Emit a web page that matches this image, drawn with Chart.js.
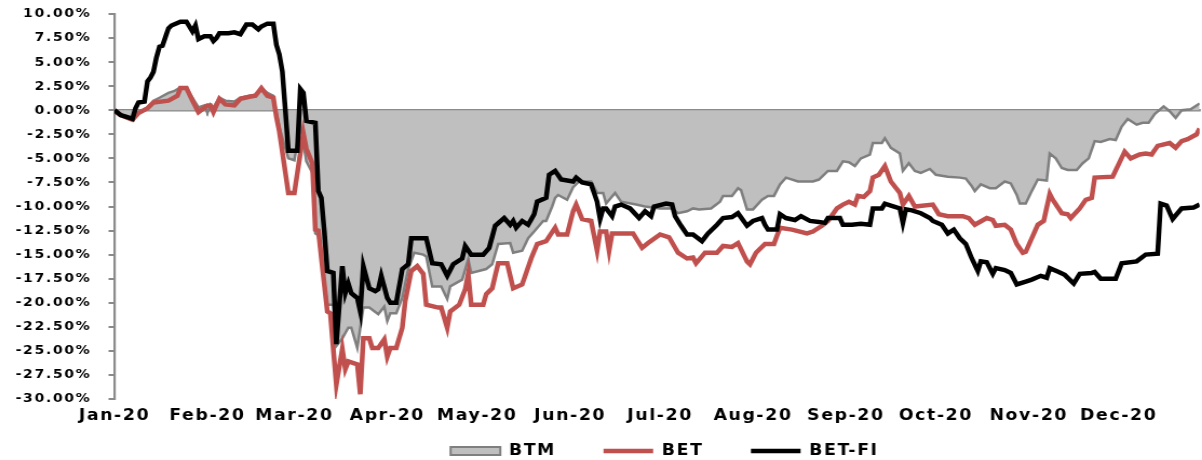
<!DOCTYPE html>
<html>
<head>
<meta charset="utf-8">
<script src="https://cdn.jsdelivr.net/npm/chart.js@4"></script>
<style>
html, body { margin: 0; padding: 0; background: #fff; overflow: hidden; }
#wrap { position: absolute; left: 0; top: 0; width: 1113px; height: 460px; transform: scaleX(1.08); transform-origin: 0 0; }
</style>
</head>
<body>
<div id="wrap"><canvas id="c"></canvas></div>
<script>
// ---- Data (day of year 2020, % change since start of year) ----
const monthLabels = ['Jan-20','Feb-20','Mar-20','Apr-20','May-20','Jun-20','Jul-20','Aug-20','Sep-20','Oct-20','Nov-20','Dec-20'];
const monthStartDays = [0,31,60,91,121,152,182,213,244,274,305,335];

const btmDays = [
  0,2,6,8,11,13,15,18,20,22,
  24,26,28,30,31,32,33,35,37,40,
  42,45,47,49,51,53,54,55,58,60,
  62,64,66,67,68,71,73,74,76,78,
  79,81,83,85,88,90,91,92,94,96,
  98,100,103,104,106,109,111,112,116,118,
  119,124,126,128,132,133,136,138,140,143,
  144,146,147,148,151,153,155,159,161,163,
  164,167,169,174,177,182,186,188,191,193,
  195,199,202,203,206,208,209,211,213,216,
  218,220,222,224,228,233,235,238,241,243,
  245,247,249,252,253,256,257,259,262,263,
  265,267,269,272,274,278,282,284,286,287,
  289,292,294,297,299,301,302,304,306,308,
  311,312,314,316,318,321,323,325,327,329,
  332,334,336,338,341,343,345,347,350,352,
  354,356,359,362
];
const btmValues = [
  0,-0.4,-0.8,-0.2,0.3,1.0,1.3,1.8,2.0,2.4,
  2.4,1.3,0.3,0.5,-0.3,0.6,0.3,1.3,1.0,0.9,
  1.3,1.5,1.6,2.3,1.8,1.5,-0.3,-1.8,-5.0,-5.2,
  -1.5,-5.3,-6.5,-12.8,-13.0,-20.2,-20.2,-24.5,-23.7,-22.6,
  -22.6,-24.7,-20.5,-20.5,-21.2,-20.4,-21.9,-21.1,-21.1,-19.5,
  -16.5,-14.8,-15.0,-15.2,-18.3,-18.3,-19.6,-18.3,-17.6,-15.5,
  -16.9,-16.5,-16.0,-13.9,-13.8,-14.8,-14.6,-13.3,-12.6,-11.5,
  -11.5,-10.0,-9.1,-8.8,-9.3,-8.0,-7.4,-7.4,-8.6,-8.6,
  -9.7,-8.6,-9.5,-9.8,-10.0,-10.2,-10.2,-10.7,-10.5,-10.2,
  -10.3,-10.2,-9.5,-8.9,-8.9,-8.1,-8.3,-10.3,-10.3,-9.3,
  -8.9,-8.9,-7.7,-7.0,-7.4,-7.4,-7.2,-6.3,-6.3,-5.3,
  -5.4,-5.8,-5.0,-4.6,-3.4,-3.4,-2.9,-3.9,-4.5,-6.3,
  -5.5,-6.3,-6.5,-6.1,-6.7,-6.9,-7.0,-7.1,-7.9,-8.4,
  -7.7,-8.1,-8.1,-7.4,-7.6,-8.8,-9.7,-9.7,-8.4,-7.2,
  -7.3,-4.5,-5.0,-6.0,-6.2,-6.2,-5.5,-5.0,-3.2,-3.3,
  -3.0,-3.1,-1.7,-0.9,-1.5,-1.3,-1.3,-0.4,0.4,-0.1,
  -0.8,0.0,0.1,0.7
];

const betDays = [
  0,2,6,8,11,13,18,21,22,24,
  26,28,31,32,33,35,37,40,42,45,
  47,49,51,53,54,55,58,60,63,64,
  66,67,68,71,72,74,76,77,78,81,
  82,83,85,86,88,90,91,92,94,96,
  97,99,101,103,104,108,109,111,112,115,
  117,118,119,123,124,126,128,131,133,136,
  139,141,144,147,148,151,153,154,156,159,
  161,162,164,165,166,173,176,178,182,185,
  188,191,193,194,197,201,203,206,208,211,
  212,214,217,220,222,226,231,233,236,238,
  241,243,245,247,248,250,252,253,255,257,
  259,262,263,265,267,273,275,278,283,285,
  287,291,293,294,297,299,301,303,304,306,
  308,310,312,313,316,318,319,322,324,326,
  327,333,335,337,339,342,344,346,348,352,
  354,356,358,361,362
];
const betValues = [
  0,-0.5,-1.0,-0.3,0.2,0.8,1.0,1.5,2.3,2.3,
  1.0,-0.2,0.5,0.5,-0.2,1.2,0.6,0.5,1.2,1.4,
  1.5,2.3,1.5,1.3,-0.7,-2.2,-8.6,-8.6,-2.4,-4.0,
  -5.5,-12.4,-12.5,-20.9,-21.1,-28.5,-24.8,-26.9,-26.1,-26.4,
  -29.5,-23.7,-23.7,-24.7,-24.7,-23.8,-25.6,-24.7,-24.7,-22.6,
  -19.8,-16.7,-16.2,-17.0,-20.2,-20.5,-20.5,-22.6,-20.9,-20.2,
  -18.6,-17.0,-20.2,-20.2,-19.1,-18.5,-15.9,-15.9,-18.5,-18.1,
  -15.4,-13.9,-13.6,-12.2,-12.9,-12.9,-10.5,-9.8,-11.3,-11.5,
  -14.6,-12.6,-12.6,-14.6,-12.8,-12.8,-14.3,-13.8,-12.9,-13.2,
  -14.8,-15.4,-15.3,-15.9,-14.8,-14.8,-14.1,-14.2,-13.8,-15.7,
  -16.0,-14.8,-13.9,-13.9,-12.2,-12.4,-12.8,-12.6,-12.0,-11.5,
  -10.2,-9.8,-9.5,-9.8,-8.9,-9.0,-8.4,-7.0,-6.7,-5.8,
  -7.4,-8.6,-9.8,-8.9,-10.0,-9.8,-10.8,-11.0,-11.0,-11.2,
  -11.9,-11.2,-11.4,-12.0,-11.9,-12.4,-13.9,-14.8,-14.7,-13.3,
  -11.9,-11.5,-8.7,-9.3,-10.7,-10.8,-11.2,-10.2,-9.3,-9.1,
  -7.0,-6.9,-5.6,-4.3,-5.0,-4.6,-4.5,-4.6,-3.7,-3.4,
  -3.9,-3.2,-3.0,-2.5,-1.9
];

const betFiDays = [
  0,2,4,6,7,8,10,11,12,13,
  14,15,16,18,19,22,24,26,27,28,
  30,32,33,34,35,38,40,42,44,46,
  48,49,51,53,54,55,56,57,58,61,
  62,63,64,67,68,69,70,71,73,74,
  76,77,78,79,81,82,83,85,87,88,
  89,91,92,94,96,98,99,103,104,106,
  109,111,113,116,117,119,123,125,127,130,
  132,133,134,136,138,140,141,144,145,147,
  149,153,154,156,159,161,162,163,164,166,
  167,169,172,175,177,179,180,184,186,187,
  189,191,193,196,198,201,203,206,208,211,
  213,216,217,218,221,222,224,227,229,232,
  235,237,238,242,243,246,249,252,253,256,
  257,259,262,263,264,266,269,272,273,276,
  278,280,282,284,286,288,289,291,293,294,
  297,299,301,304,306,309,311,312,315,317,
  320,322,326,327,329,334,336,341,344,348,
  349,351,353,356,360,362
];
const betFiValues = [
  0,-0.5,-0.7,-0.9,0.2,0.8,0.9,3.0,3.4,4.0,
  5.5,6.6,6.7,8.5,8.8,9.2,9.2,8.2,8.8,7.4,
  7.7,7.7,7.2,7.5,8.0,8.0,8.1,7.9,8.9,8.9,
  8.4,8.7,9.0,9.0,6.8,5.8,4.0,0.0,-4.2,-4.2,
  2.2,1.8,-1.1,-1.3,-8.4,-9.1,-12.6,-16.7,-16.9,-24.3,
  -16.2,-19.0,-18.0,-19.0,-19.5,-20.9,-16.2,-18.5,-18.8,-18.6,
  -17.2,-19.5,-20.0,-20.0,-16.5,-16.0,-13.3,-13.3,-13.3,-15.9,
  -16.0,-17.2,-16.0,-15.4,-14.1,-15.0,-15.0,-14.3,-12.0,-11.2,
  -11.9,-11.5,-12.2,-11.5,-11.9,-10.8,-9.5,-9.1,-6.7,-6.3,
  -7.2,-7.4,-7.0,-7.5,-7.7,-9.5,-11.3,-10.2,-10.2,-11.0,
  -10.0,-9.8,-10.2,-11.2,-10.5,-11.0,-10.0,-9.7,-9.8,-11.0,
  -12.0,-12.9,-12.9,-13.6,-12.8,-11.9,-11.2,-11.1,-10.7,-12.0,
  -11.5,-11.2,-11.9,-12.4,-12.4,-10.8,-11.2,-11.4,-11.0,-11.5,
  -11.6,-11.7,-11.2,-11.2,-11.9,-11.9,-11.8,-11.9,-10.2,-10.2,
  -9.7,-9.9,-10.2,-11.7,-10.3,-10.4,-10.7,-11.2,-11.5,-11.9,
  -12.8,-12.4,-13.3,-13.9,-15.4,-16.7,-15.7,-15.8,-17.0,-16.4,
  -16.6,-16.9,-18.1,-17.8,-17.6,-17.2,-17.4,-16.4,-16.8,-17.1,
  -18.0,-17.0,-16.9,-16.8,-17.5,-17.5,-15.9,-15.7,-15.0,-14.9,
  -9.7,-9.9,-11.3,-10.2,-10.1,-9.8
];

const yMin = -30, yMax = 10, yStep = 2.5;
const xMin = 0, xMax = 362;

// ---- Build chart ----
function toPoints(days, values) {
  const n = Math.min(days.length, values.length);
  const out = [];
  for (let i = 0; i < n; i++) out.push({ x: days[i], y: values[i] });
  return out;
}
function monthTicks(scale) {
  scale.ticks = monthStartDays.map(v => ({ value: v }));
}

Chart.defaults.font.family = "'DejaVu Sans', Verdana, sans-serif";
Chart.defaults.font.weight = 'bold';
Chart.defaults.color = '#000';

const AXIS_GREY = '#8a8a8a';
const LETTER_SPACING = '1.5px';
const LEGEND_SHIFT = 7;

const textSpacing = {
  id: 'textSpacing',
  beforeUpdate(chart) { chart.ctx.letterSpacing = LETTER_SPACING; },
  beforeDraw(chart) { chart.ctx.letterSpacing = LETTER_SPACING; },
  afterLayout(chart) {
    const lg = chart.legend;
    if (lg) { lg.left += LEGEND_SHIFT; lg.right += LEGEND_SHIFT; }
  }
};

new Chart(document.getElementById('c'), {
  type: 'line',
  plugins: [textSpacing],
  data: {
    datasets: [
      {
        label: 'BTM',
        data: toPoints(btmDays, btmValues),
        borderColor: '#7f7f7f',
        backgroundColor: '#bfbfbf',
        borderWidth: 2.5,
        fill: 'origin',
        pointRadius: 0,
        tension: 0,
        order: 3,
        legendStyle: 'rect',
        legendLine: 2
      },
      {
        label: 'BET',
        data: toPoints(betDays, betValues),
        borderColor: '#c0504d',
        backgroundColor: '#c0504d',
        borderWidth: 4.5,
        fill: false,
        pointRadius: 0,
        tension: 0,
        order: 2,
        legendStyle: 'line',
        legendLine: 4.5
      },
      {
        label: 'BET-FI',
        data: toPoints(betFiDays, betFiValues),
        borderColor: '#000000',
        backgroundColor: '#000000',
        borderWidth: 4.5,
        fill: false,
        pointRadius: 0,
        tension: 0,
        order: 1,
        legendStyle: 'line',
        legendLine: 4.5
      }
    ]
  },
  options: {
    responsive: true,
    maintainAspectRatio: false,
    animation: false,
    events: [],
    layout: { padding: { top: 14, right: 2, left: 0, bottom: 0 } },
    scales: {
      x: {
        type: 'linear',
        position: { y: yMin },
        min: xMin, max: xMax,
        grid: { display: false, drawTicks: false },
        border: { display: false },
        afterBuildTicks: monthTicks,
        ticks: {
          autoSkip: false, maxRotation: 0, padding: 7.4,
          font: { size: 16, weight: 'bold' }, color: '#000',
          callback: (v, i) => monthLabels[i]
        }
      },
      x2: {
        type: 'linear',
        axis: 'x',
        position: { y: 0 },
        min: xMin, max: xMax,
        afterBuildTicks: monthTicks,
        grid: { drawOnChartArea: false, drawTicks: true, tickLength: 4, color: AXIS_GREY, lineWidth: 1.8 },
        border: { display: true, color: AXIS_GREY, width: 2.5 },
        ticks: { display: false }
      },
      y: {
        position: 'left',
        min: yMin, max: yMax,
        afterFit: (s) => { s.width = 106; s.paddingTop = 0; s.paddingBottom = 0; },
        grid: { drawOnChartArea: false, drawTicks: true, tickLength: 5.5, color: AXIS_GREY, lineWidth: 2 },
        border: { display: true, color: AXIS_GREY, width: 2.2 },
        ticks: {
          stepSize: yStep, padding: 16,
          font: { size: 13, weight: 'bold' }, color: '#000',
          callback: (v) => v.toFixed(2) + '%'
        }
      }
    },
    plugins: {
      tooltip: { enabled: false },
      legend: {
        position: 'bottom',
        fullSize: false,
        maxHeight: 61,
        labels: {
          usePointStyle: true,
          pointStyleWidth: 46,
          boxHeight: 8,
          padding: 44,
          color: '#000',
          font: { size: 16, weight: 'bold' },
          generateLabels: (chart) => chart.data.datasets.map((ds, i) => ({
            text: ds.label,
            fillStyle: ds.backgroundColor,
            strokeStyle: ds.borderColor,
            lineWidth: ds.legendLine,
            pointStyle: ds.legendStyle,
            lineCap: 'butt',
            fontColor: '#000',
            hidden: false,
            datasetIndex: i
          }))
        }
      }
    }
  }
});
</script>
</body>
</html>
